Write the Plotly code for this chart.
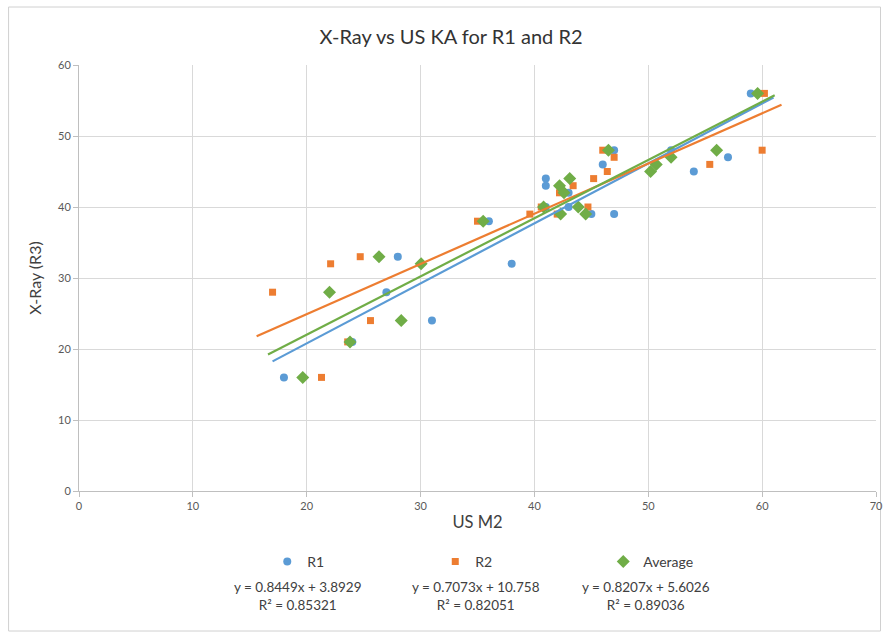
import numpy as np
import plotly.graph_objects as go

# X-Ray (R3) value for each row (shared by all three series)
xray_r3 = [16, 21, 28, 33, 24, 32, 38, 44, 43, 42, 40, 39, 39, 40, 48, 46, 47, 45, 48, 56]
# US M2 readings
us_m2_r1 = [18, 24, 27, 28, 31, 38, 36, 41, 41, 43, 43, 45, 47, 41, 47, 46, 57, 54, 52, 59]
us_m2_r2 = [21.3, 23.6, 17, 24.7, 25.6, 22.1, 35, 45.2, 43.4, 42.2, 44.7, 39.6, 42.0, 40.6, 46, 55.4, 47, 46.4, 60, 60.2]
us_m2_avg = [(a + b) / 2 for a, b in zip(us_m2_r1, us_m2_r2)]

series_names = ["R1", "R2", "Average"]
trend_slope = [0.8449, 0.7073, 0.8207]
trend_intercept = [3.8929, 10.758, 5.6026]
trend_r2 = [0.85321, 0.82051, 0.89036]
trend_x_start = [17.0, 15.6, 16.6]
trend_x_end = [61.0, 61.7, 61.1]

x_ticks = [0, 10, 20, 30, 40, 50, 60, 70]
y_ticks = [0, 10, 20, 30, 40, 50, 60]

colors = ["#5B9BD5", "#ED7D31", "#70AD47"]
symbols = ["circle", "square", "diamond"]
sizes = [8, 7, 10]
xs = [us_m2_r1, us_m2_r2, us_m2_avg]

FONT = "Lato, 'Open Sans', sans-serif"

fig = go.Figure()
for i in range(3):
    fig.add_trace(go.Scatter(
        x=xs[i], y=xray_r3, mode="markers", name=series_names[i],
        marker=dict(color=colors[i], symbol=symbols[i], size=sizes[i], line=dict(width=0)),
    ))
for i in range(3):
    tx = np.array([trend_x_start[i], trend_x_end[i]])
    ty = trend_slope[i] * tx + trend_intercept[i]
    fig.add_trace(go.Scatter(
        x=tx, y=ty, mode="lines", showlegend=False, hoverinfo="skip",
        line=dict(color=colors[i], width=2.2),
    ))

# plot area in pixels: x 78.5..876.5, y 65..491
L, R, T, B = 78.5, 876.5, 65, 491
W, H = 885, 637
def px(xp):
    return (xp - L) / (R - L)
def py(yp):
    return (B - yp) / (B - T)

eq_centers = [298, 476, 646]
annotations = []
for i in range(3):
    annotations.append(dict(
        x=px(eq_centers[i]), y=py(596), xref="paper", yref="paper",
        xanchor="center", yanchor="middle", showarrow=False,
        text=f"y = {trend_slope[i]}x + {trend_intercept[i]}<br>R² = {trend_r2[i]}",
        font=dict(family=FONT, size=13.5, color="#404040"), align="center",
    ))

fig.update_layout(
    width=W, height=H,
    margin=dict(l=L, r=W - R, t=T, b=H - B, autoexpand=False),
    paper_bgcolor="white", plot_bgcolor="white",
    font=dict(family=FONT, color="#595959"),
    title=dict(text="X-Ray vs US KA for R1 and R2", x=451 / W, xanchor="center",
               y=1 - 37 / H, yanchor="middle",
               font=dict(family=FONT, size=20, color="#333333")),
    xaxis=dict(range=[0, 70], tickvals=x_ticks, showgrid=True, gridcolor="#d9d9d9",
               gridwidth=1, zeroline=False, showline=True, linecolor="#bfbfbf",
               ticks="outside", ticklen=5, tickcolor="#bfbfbf",
               tickfont=dict(size=11, color="#595959"),
               title=dict(text="US M2", font=dict(size=16.5, color="#404040"), standoff=5),
               mirror=False, fixedrange=True),
    yaxis=dict(range=[0, 60], tickvals=y_ticks, showgrid=True, gridcolor="#d9d9d9",
               gridwidth=1, zeroline=False, showline=True, linecolor="#bfbfbf",
               ticks="outside", ticklen=5, tickcolor="#bfbfbf",
               tickfont=dict(size=11, color="#595959"),
               title=dict(text="X-Ray (R3)", font=dict(size=16, color="#404040"), standoff=12),
               fixedrange=True),
    legend=dict(orientation="h", x=px(267), xanchor="left", y=py(562), yanchor="middle",
                entrywidth=123, entrywidthmode="pixels",
                font=dict(family=FONT, size=14, color="#404040"),
                bgcolor="rgba(0,0,0,0)", itemclick=False, itemdoubleclick=False),
    annotations=annotations,
    shapes=[dict(type="rect", xref="paper", yref="paper",
                 x0=px(8), x1=px(881), y0=py(631), y1=py(7),
                 line=dict(color="#d0d0d0", width=1), fillcolor="rgba(0,0,0,0)", layer="below")],
    showlegend=True,
)

fig.write_html(
    "out.html",
    config={"displayModeBar": False},
    post_script="document.body.style.margin='0';document.body.style.overflow='hidden';",
)
